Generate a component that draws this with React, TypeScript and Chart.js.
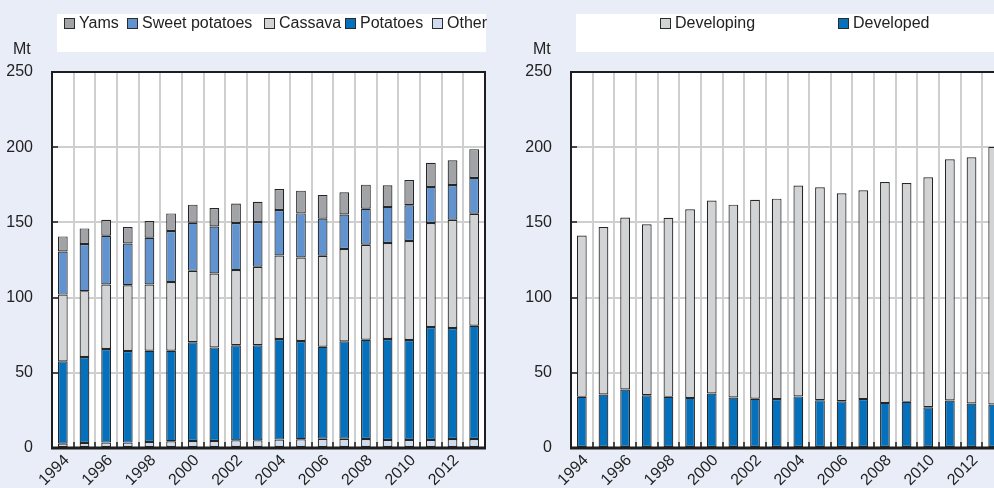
import React, { useEffect, useRef } from "react";
import { Chart, registerables } from "chart.js";

Chart.register(...registerables);

// ---------- data ----------
const years = ["1994", "1995", "1996", "1997", "1998", "1999", "2000", "2001", "2002", "2003", "2004", "2005", "2006", "2007", "2008", "2009", "2010", "2011", "2012", "2013"];

const other = [2.9, 3.3, 3.6, 3.6, 4.0, 4.5, 4.7, 4.7, 5.1, 5.1, 5.6, 5.8, 6.2, 6.2, 6.0, 5.4, 5.4, 5.4, 6.0, 6.0];
const potatoes = [54.7, 57.2, 62.2, 60.9, 60.7, 60.2, 65.6, 62.2, 63.2, 63.2, 66.9, 65.3, 61.1, 64.7, 66.0, 67.1, 66.4, 75.1, 73.8, 75.3];
const cassava = [44.4, 43.8, 42.9, 43.7, 44.0, 45.6, 47.5, 49.1, 50.0, 52.2, 55.5, 55.6, 60.5, 61.4, 63.1, 63.8, 65.8, 69.1, 72.0, 74.5];
const sweetPotatoes = [28.7, 31.3, 32.4, 27.8, 31.1, 34.0, 32.0, 31.3, 31.3, 29.8, 30.2, 29.3, 24.7, 23.0, 24.0, 24.0, 23.8, 24.0, 23.1, 23.8];
const yams = [10.0, 10.4, 10.7, 10.9, 11.1, 11.7, 12.0, 12.3, 12.9, 13.4, 14.0, 15.1, 15.8, 14.7, 16.0, 14.4, 16.8, 16.0, 16.4, 19.1];

const developed = [34.0, 35.6, 38.9, 35.1, 34.0, 33.3, 36.2, 33.6, 32.7, 32.5, 34.3, 31.8, 31.1, 32.5, 30.0, 30.7, 27.1, 31.6, 29.6, 28.9];
const developing = [107.3, 111.3, 114.4, 113.6, 119.1, 125.4, 128.3, 128.2, 132.3, 133.3, 140.2, 141.6, 138.2, 138.8, 146.9, 145.5, 152.9, 160.4, 163.7, 171.4];

const yMin = 0;
const yMax = 250;
const yStep = 50;
const unitLabel = "Mt";

// ---------- styles ----------
const FONT = "'Liberation Sans', Arial, sans-serif";
const FONT_SIZE = 16;
const TEXT = "#222222";
const BG = "#e9edf7";
const GRID = "#cfcfcf";
const C_YAMS = "#a2a3a6";
const C_SWEET = "#6193d0";
const C_CASSAVA = "#d2d3d5";
const C_POTATOES = "#0570bb";
const C_OTHER = "#cfdcf0";

const leftSeries = [
  { name: "Other", data: other, color: C_OTHER },
  { name: "Potatoes", data: potatoes, color: C_POTATOES },
  { name: "Cassava", data: cassava, color: C_CASSAVA },
  { name: "Sweet potatoes", data: sweetPotatoes, color: C_SWEET },
  { name: "Yams", data: yams, color: C_YAMS },
];
const rightSeries = [
  { name: "Developed", data: developed, color: C_POTATOES },
  { name: "Developing", data: developing, color: C_CASSAVA },
];

const CANVAS_W = 494;
const CANVAS_H = 488;
const PLOT_LEFT = 52;
const PLOT_TOP = 72;
const PLOT_RIGHT = 485;
const XAXIS_H = 40;

const framePlugin = {
  id: "frame",
  beforeDraw(chart: any) {
    const { ctx, chartArea: a } = chart;
    ctx.save();
    ctx.fillStyle = "#ffffff";
    ctx.fillRect(a.left, a.top, a.right - a.left, a.bottom - a.top);
    ctx.restore();
  },
  afterDraw(chart: any) {
    const { ctx, chartArea: a, scales } = chart;
    ctx.save();
    ctx.strokeStyle = "#1e1e1e";
    ctx.lineWidth = 2;
    ctx.strokeRect(a.left, a.top, a.right - a.left, a.bottom - a.top);
    ctx.lineWidth = 3;
    ctx.beginPath();
    ctx.moveTo(a.left - 1, a.bottom);
    ctx.lineTo(a.right + 1, a.bottom);
    ctx.stroke();
    ctx.lineWidth = 1.5;
    ctx.beginPath();
    const xs = scales.x;
    const n = chart.data.labels.length;
    for (let i = 0; i <= n; i++) {
      const x = Math.round(xs.getPixelForValue(i - 0.5));
      ctx.moveTo(x, a.bottom);
      ctx.lineTo(x, a.bottom - 6);
    }
    const ys = scales.y;
    ys.ticks.forEach((t: any) => {
      const y = Math.round(ys.getPixelForValue(t.value));
      ctx.moveTo(a.left, y);
      ctx.lineTo(a.left + 6, y);
    });
    ctx.stroke();
    ctx.restore();
  },
};

function makeConfig(series: { name: string; data: number[]; color: string }[]) {
  return {
    type: "bar" as const,
    data: {
      labels: years,
      datasets: series.map((s) => ({
        label: s.name,
        data: s.data,
        backgroundColor: s.color,
        borderColor: "#262626",
        borderWidth: 1.2,
        borderSkipped: false,
        barPercentage: 0.45,
        categoryPercentage: 1,
      })),
    },
    options: {
      responsive: false,
      animation: false as const,
      devicePixelRatio: 1,
      layout: { padding: { left: 0, top: PLOT_TOP, right: CANVAS_W - PLOT_RIGHT, bottom: 0 } },
      plugins: { legend: { display: false }, tooltip: { enabled: false }, title: { display: false } },
      scales: {
        x: {
          stacked: true,
          grid: { display: true, color: GRID, lineWidth: 2, drawOnChartArea: true, drawTicks: false, offset: true },
          border: { display: false },
          ticks: {
            autoSkip: false,
            minRotation: 45,
            maxRotation: 45,
            padding: 3,
            labelOffset: 4,
            color: TEXT,
            font: { family: FONT, size: FONT_SIZE },
            callback: (_v: any, i: number) => (i % 2 === 0 ? years[i] : ""),
          },
          afterFit: (scale: any) => {
            scale.height = XAXIS_H;
          },
        },
        y: {
          stacked: true,
          min: yMin,
          max: yMax,
          grid: { display: true, color: GRID, lineWidth: 2, drawOnChartArea: true, drawTicks: false },
          border: { display: false },
          ticks: {
            stepSize: yStep,
            padding: 19,
            color: TEXT,
            font: { family: FONT, size: FONT_SIZE },
          },
          afterFit: (scale: any) => {
            scale.width = PLOT_LEFT;
          },
        },
      },
    },
    plugins: [framePlugin],
  };
}

type LegendItem = { name: string; color: string; x: number };

function Legend({ items, left, width }: { items: LegendItem[]; left: number; width: number }) {
  return (
    <div style={{ position: "absolute", left, top: 14, width, height: 38, background: "#ffffff" }}>
      {items.map((it) => (
        <div key={it.name} style={{ position: "absolute", left: it.x - left, top: 1, height: 16, lineHeight: "16px", whiteSpace: "nowrap", display: "flex", alignItems: "center" }}>
          <span style={{ display: "inline-block", width: 9, height: 9, background: it.color, border: "1px solid #2b2b2b", marginRight: 4, marginTop: 1 }} />
          <span style={{ fontSize: FONT_SIZE, color: TEXT }}>{it.name}</span>
        </div>
      ))}
    </div>
  );
}

export default function App() {
  const leftRef = useRef<HTMLCanvasElement>(null);
  const rightRef = useRef<HTMLCanvasElement>(null);

  useEffect(() => {
    const c1 = new Chart(leftRef.current as HTMLCanvasElement, makeConfig(leftSeries) as any);
    const c2 = new Chart(rightRef.current as HTMLCanvasElement, makeConfig(rightSeries) as any);
    return () => {
      c1.destroy();
      c2.destroy();
    };
  }, []);

  const leftLegend: LegendItem[] = [
    { name: "Yams", color: C_YAMS, x: 64 },
    { name: "Sweet potatoes", color: C_SWEET, x: 127 },
    { name: "Cassava", color: C_CASSAVA, x: 264 },
    { name: "Potatoes", color: C_POTATOES, x: 345 },
    { name: "Other", color: C_OTHER, x: 432 },
  ];
  const rightLegend: LegendItem[] = [
    { name: "Developing", color: C_CASSAVA, x: 660 },
    { name: "Developed", color: C_POTATOES, x: 838 },
  ];

  return (
    <div style={{ position: "absolute", left: 0, top: 0, width: 994, height: 488, overflow: "hidden", background: BG, fontFamily: FONT, color: TEXT }}>
      <canvas ref={leftRef} width={CANVAS_W} height={CANVAS_H} style={{ position: "absolute", left: 0, top: 0 }} />
      <canvas ref={rightRef} width={CANVAS_W} height={CANVAS_H} style={{ position: "absolute", left: 519, top: 0 }} />
      <Legend items={leftLegend} left={57} width={429} />
      <Legend items={rightLegend} left={576} width={418} />
      <div style={{ position: "absolute", left: 13, top: 41, fontSize: FONT_SIZE, lineHeight: "16px" }}>{unitLabel}</div>
      <div style={{ position: "absolute", left: 533, top: 41, fontSize: FONT_SIZE, lineHeight: "16px" }}>{unitLabel}</div>
    </div>
  );
}
